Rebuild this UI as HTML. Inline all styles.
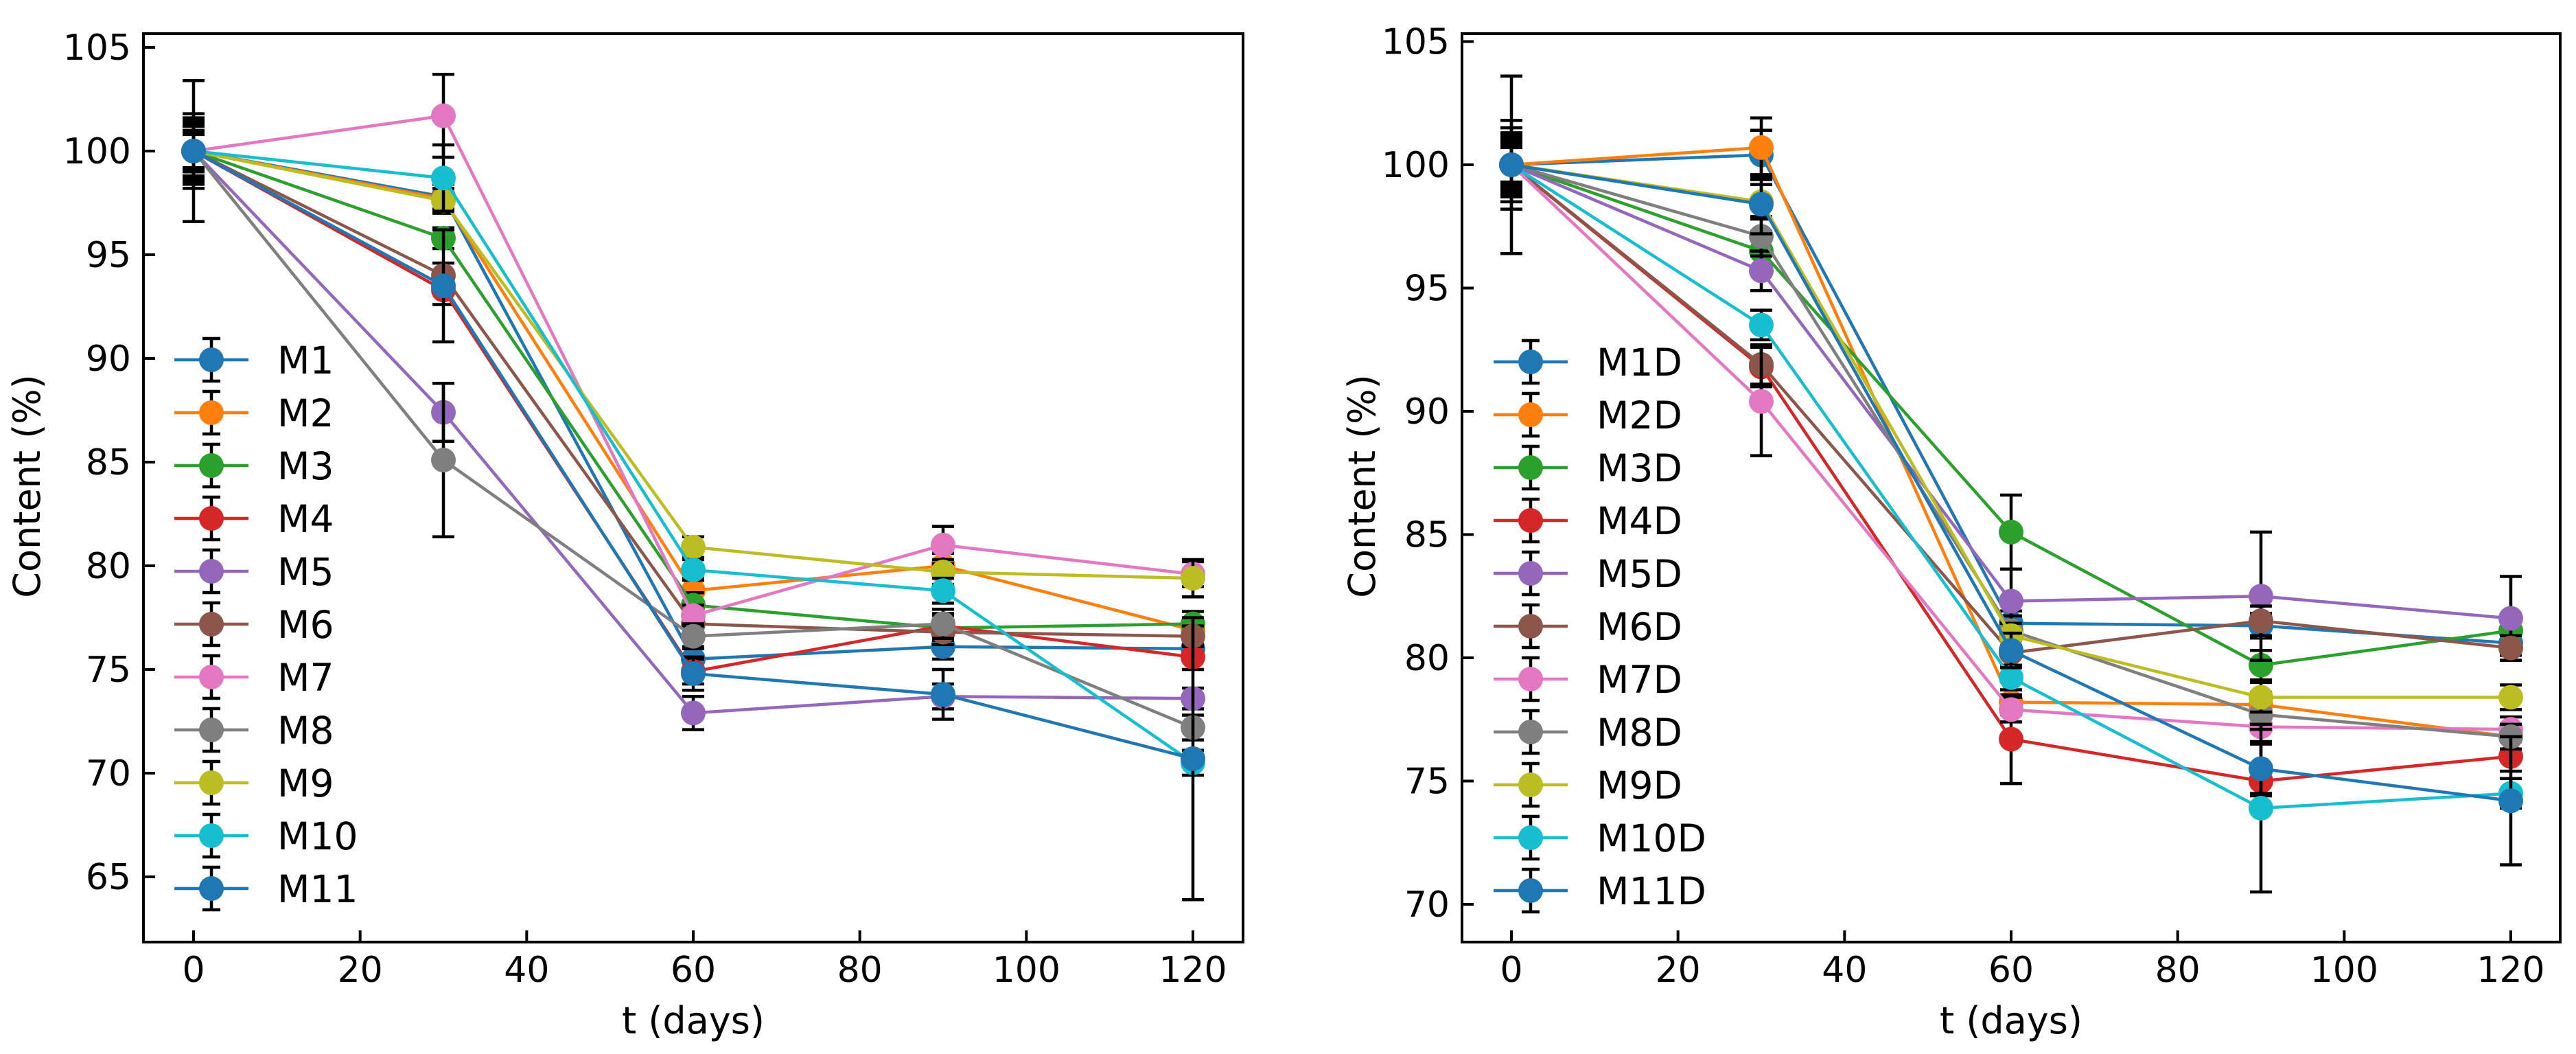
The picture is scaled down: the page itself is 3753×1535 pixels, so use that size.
<!DOCTYPE html>
<html><head><meta charset="utf-8"><style>
html,body{margin:0;padding:0;background:#fff;}
svg{display:block;font-family:"DejaVu Sans","Liberation Sans",sans-serif;}
</style></head><body>
<svg id="fig" width="3753" height="1535" viewBox="0 0 3753 1535" xmlns="http://www.w3.org/2000/svg"></svg>
<script>
const days = [0, 30, 60, 90, 120];
const colors = ['#1f77b4','#ff7f0e','#2ca02c','#d62728','#9467bd','#8c564b','#e377c2','#7f7f7f','#bcbd22','#17becf','#1f77b4'];
const leftNames = ['M1','M2','M3','M4','M5','M6','M7','M8','M9','M10','M11'];
const leftValues = [
 [100,97.8,75.5,76.1,76.0],
 [100,97.7,78.8,80.0,76.9],
 [100,95.8,78.1,77.0,77.2],
 [100,93.3,74.9,77.1,75.6],
 [100,87.4,72.9,73.7,73.6],
 [100,94.0,77.2,76.8,76.6],
 [100,101.7,77.6,81.0,79.6],
 [100,85.1,76.6,77.2,72.2],
 [100,97.6,80.9,79.7,79.4],
 [100,98.7,79.8,78.8,70.5],
 [100,93.5,74.8,73.8,70.7]];
const leftErrors = [
 [1.5,0.6,0.6,0.6,0.5],
 [1.0,0.5,0.6,0.6,0.5],
 [1.8,0.5,0.6,0.6,0.6],
 [1.2,0.7,0.6,0.6,0.6],
 [0.8,1.4,0.8,0.6,0.5],
 [1.3,0.6,0.6,0.6,0.5],
 [1.0,2.0,0.5,0.9,0.6],
 [1.6,3.7,0.6,0.7,0.6],
 [0.9,0.6,0.5,0.6,0.9],
 [1.4,1.6,0.5,0.6,0.6],
 [3.4,2.7,0.8,1.2,6.8]];
const rightNames = ['M1D','M2D','M3D','M4D','M5D','M6D','M7D','M8D','M9D','M10D','M11D'];
const rightValues = [
 [100,100.4,81.4,81.3,80.6],
 [100,100.7,78.2,78.1,76.8],
 [100,96.5,85.1,79.7,81.1],
 [100,91.8,76.7,75.0,76.0],
 [100,95.7,82.3,82.5,81.6],
 [100,91.9,80.2,81.5,80.4],
 [100,90.4,77.9,77.2,77.1],
 [100,97.1,81.1,77.7,76.8],
 [100,98.5,80.9,78.4,78.4],
 [100,93.5,79.2,73.9,74.5],
 [100,98.4,80.3,75.5,74.2]];
const rightErrors = [
 [1.0,1.0,0.5,0.5,0.5],
 [1.8,1.2,0.5,0.5,0.5],
 [0.8,0.8,1.5,0.6,0.6],
 [1.2,0.8,1.8,0.6,0.6],
 [0.9,0.8,1.3,2.6,1.7],
 [1.5,0.8,0.5,0.6,0.5],
 [0.7,2.2,0.5,0.6,0.5],
 [1.1,0.8,0.6,0.6,0.5],
 [0.9,0.7,0.5,0.6,0.5],
 [1.3,0.6,0.5,3.4,0.6],
 [3.6,1.2,0.7,1.0,2.6]];
const leftYTicks = [65,70,75,80,85,90,95,100,105];
const rightYTicks = [70,75,80,85,90,95,100,105];
const xTicks = [0,20,40,60,80,100,120];

const NS='http://www.w3.org/2000/svg';
const svg=document.getElementById('fig');
function el(tag,attrs,parent){const e=document.createElementNS(NS,tag);for(const k in attrs)e.setAttribute(k,attrs[k]);(parent||svg).appendChild(e);return e;}

function panel(cfg){
  const g=el('g',{});
  
  
  const X=v=>cfg.x0+(v/120)*(cfg.x120-cfg.x0);
  const Y=v=>cfg.y100+(100-v)*cfg.ppu;
  xTicks.forEach(t=>{
    const tk=el('line',{x1:X(t),x2:X(t),y1:cfg.bottom,y2:cfg.bottom-17,stroke:'#000','stroke-width':4},g);
    
    
    const tx=el('text',{x:X(t),y:cfg.bottom+58,'font-size':52,'text-anchor':'middle',fill:'#000'},g);
    tx.textContent=t;
    
    
  });
  cfg.yticks.forEach(t=>{
    const tk=el('line',{x1:cfg.left,x2:cfg.left+17,y1:Y(t),y2:Y(t),stroke:'#000','stroke-width':4},g);
    
    
    const tx=el('text',{x:cfg.left-18,y:Y(t)+18,'font-size':52,'text-anchor':'end',fill:'#000'},g);
    tx.textContent=t;
    
    
  });
  const xl=el('text',{x:(cfg.x0+cfg.x120)/2,y:1505,'font-size':54,'text-anchor':'middle',fill:'#000'},g);
  xl.textContent='t (days)';
  
  
  const yl=el('text',{x:0,y:0,'font-size':54,'text-anchor':'middle',fill:'#000',transform:`translate(${cfg.ylabX},${708}) rotate(-90)`},g);
  yl.textContent='Content (%)';
  
  
  cfg.values.forEach((vals,i)=>{
    const sg=el('g',{},g);
    
    
    const c=colors[i];
    const pts=vals.map((v,j)=>X(days[j])+','+Y(v)).join(' ');
    vals.forEach((v,j)=>{
      const e=cfg.errors[i][j];const x=X(days[j]);
      el('line',{x1:x,x2:x,y1:Y(v+e),y2:Y(v-e),stroke:'#000','stroke-width':4.5},sg);
      el('line',{x1:x-16,x2:x+16,y1:Y(v+e),y2:Y(v+e),stroke:'#000','stroke-width':4.5},sg);
      el('line',{x1:x-16,x2:x+16,y1:Y(v-e),y2:Y(v-e),stroke:'#000','stroke-width':4.5},sg);
    });
    const pl=el('polyline',{points:pts,fill:'none',stroke:c,'stroke-width':4.5},sg);
    
    
    vals.forEach((v,j)=>{
      const m=el('circle',{cx:X(days[j]),cy:Y(v),r:18,fill:c},sg);
      
      
    });
  });
  const lg=el('g',{},g);
  
  
  cfg.names.forEach((n,i)=>{
    const y=cfg.legY+i*77;const mx=cfg.legX+54;
    const eg=el('g',{},lg);
    
    
    el('line',{x1:cfg.legX,x2:cfg.legX+108,y1:y,y2:y,stroke:colors[i],'stroke-width':4.5},eg);
    el('line',{x1:mx,x2:mx,y1:y-31,y2:y+31,stroke:'#000','stroke-width':4.5},eg);
    el('line',{x1:mx-13,x2:mx+13,y1:y-31,y2:y-31,stroke:'#000','stroke-width':4.5},eg);
    el('line',{x1:mx-13,x2:mx+13,y1:y+31,y2:y+31,stroke:'#000','stroke-width':4.5},eg);
    el('circle',{cx:mx,cy:y,r:18,fill:colors[i]},eg);
    const t=el('text',{x:cfg.legX+150,y:y+20,'font-size':55,fill:'#000'},eg);
    t.textContent=n;
  });
  const fr=el('rect',{x:cfg.left,y:cfg.top,width:cfg.right-cfg.left,height:cfg.bottom-cfg.top,fill:'none',stroke:'#000','stroke-width':4},g);
  
  
}
panel({name:'left-chart',left:209,right:1811,top:49,bottom:1372,x0:282,x120:1738,y100:220,ppu:30.2,yticks:leftYTicks,values:leftValues,errors:leftErrors,names:leftNames,legX:254,legY:524,ylabX:58});
panel({name:'right-chart',left:2130,right:3730,top:49,bottom:1372,x0:2202,x120:3658,y100:240,ppu:35.9,yticks:rightYTicks,values:rightValues,errors:rightErrors,names:rightNames,legX:2176,legY:527,ylabX:2003});
</script>
</body></html>
